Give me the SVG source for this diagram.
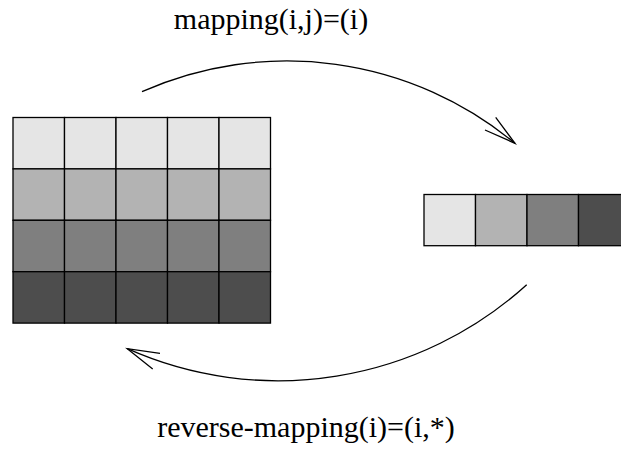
<svg xmlns="http://www.w3.org/2000/svg" width="621" height="449" viewBox="0 0 621 449">
<style>
.c{stroke:#000;stroke-width:1.3}
.l1{fill:#e5e5e5}.l2{fill:#b3b3b3}.l3{fill:#7f7f7f}.l4{fill:#4d4d4d}
.t{font-family:"Liberation Serif","Times New Roman",serif;font-size:30px;fill:#000;text-anchor:middle}
.a{fill:none;stroke:#000;stroke-width:1.3}
</style>
<rect width="621" height="449" fill="#fff"/>
<g id="matrix">
<g class="c l1">
<rect x="13" y="117.5" width="51.5" height="51.4"/><rect x="64.5" y="117.5" width="51.5" height="51.4"/><rect x="116" y="117.5" width="51.5" height="51.4"/><rect x="167.5" y="117.5" width="51.5" height="51.4"/><rect x="219" y="117.5" width="51.5" height="51.4"/>
</g>
<g class="c l2">
<rect x="13" y="168.9" width="51.5" height="51.4"/><rect x="64.5" y="168.9" width="51.5" height="51.4"/><rect x="116" y="168.9" width="51.5" height="51.4"/><rect x="167.5" y="168.9" width="51.5" height="51.4"/><rect x="219" y="168.9" width="51.5" height="51.4"/>
</g>
<g class="c l3">
<rect x="13" y="220.3" width="51.5" height="51.4"/><rect x="64.5" y="220.3" width="51.5" height="51.4"/><rect x="116" y="220.3" width="51.5" height="51.4"/><rect x="167.5" y="220.3" width="51.5" height="51.4"/><rect x="219" y="220.3" width="51.5" height="51.4"/>
</g>
<g class="c l4">
<rect x="13" y="271.7" width="51.5" height="51.4"/><rect x="64.5" y="271.7" width="51.5" height="51.4"/><rect x="116" y="271.7" width="51.5" height="51.4"/><rect x="167.5" y="271.7" width="51.5" height="51.4"/><rect x="219" y="271.7" width="51.5" height="51.4"/>
</g>
</g>
<g id="vector">
<rect class="c l1" x="424" y="194.5" width="51.5" height="51.2"/>
<rect class="c l2" x="475.5" y="194.5" width="51.5" height="51.2"/>
<rect class="c l3" x="527" y="194.5" width="51.5" height="51.2"/>
<rect class="c l4" x="578.5" y="194.5" width="51.5" height="51.2"/>
</g>
<g id="connectors">
<path class="a" d="M142 91.7 A357 357 0 0 1 515 143.3"/>
<path class="a" d="M495.7 117.3 L515 143.3 L485 130"/>
<path class="a" d="M526.7 284.7 A370 370 0 0 1 127.3 348.7"/>
<path class="a" d="M160 353.3 L127.3 348.7 L152.7 369"/>
</g>
<g id="labels">
<text class="t" x="271" y="29">mapping(i,j)=(i)</text>
<text class="t" x="306" y="437">reverse-mapping(i)=(i,*)</text>
</g>
</svg>
